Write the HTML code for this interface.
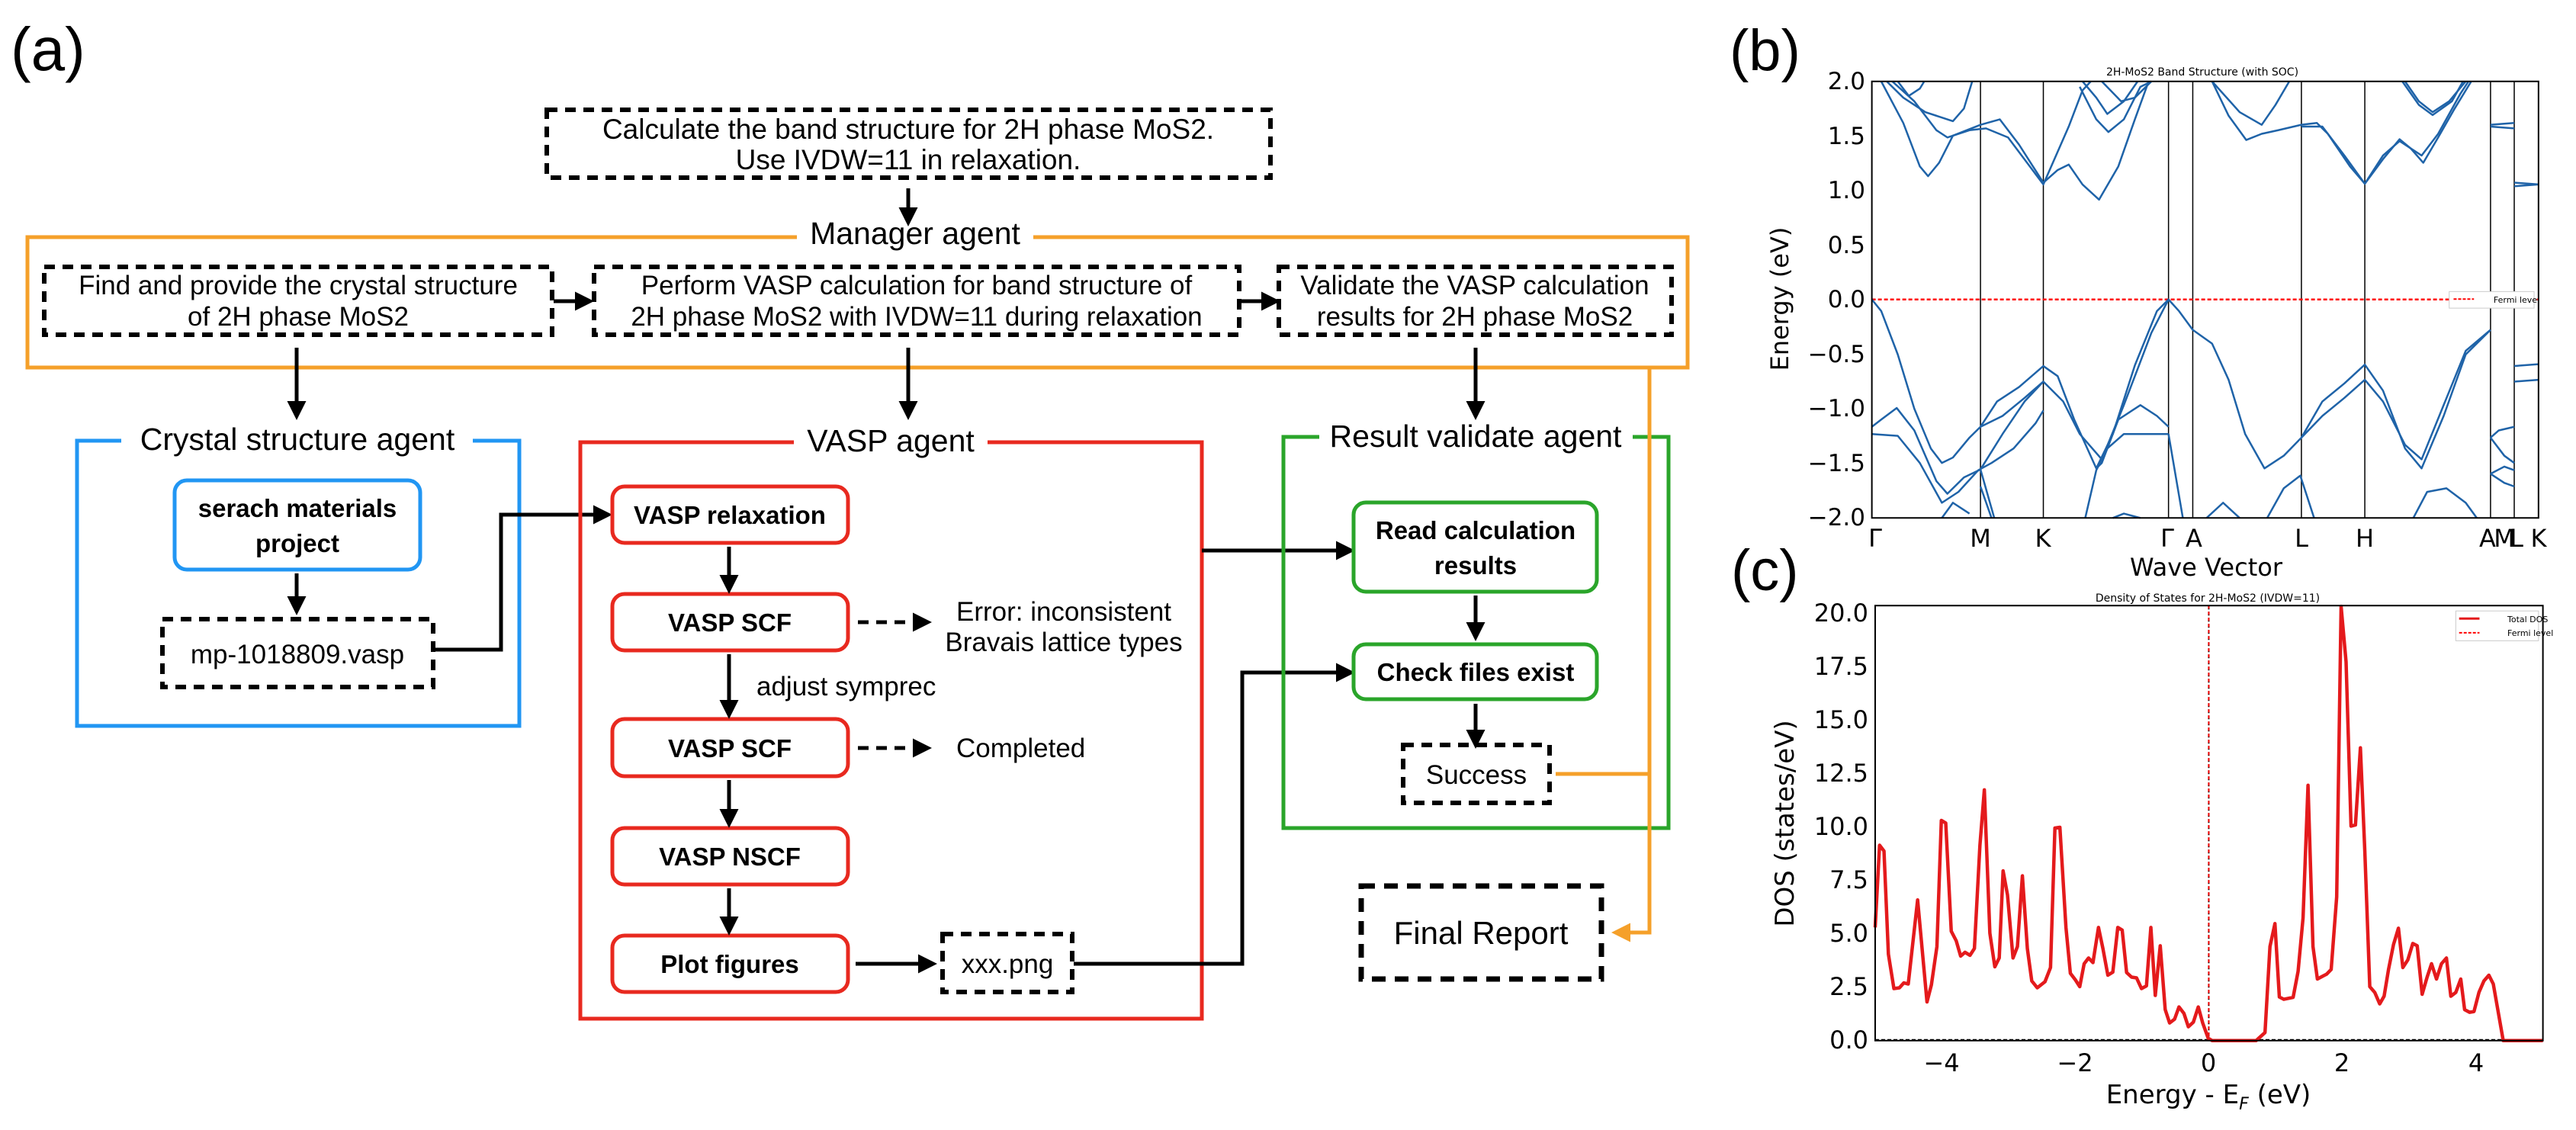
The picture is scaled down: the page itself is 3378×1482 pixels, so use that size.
<!DOCTYPE html>
<html><head><meta charset="utf-8"><style>
html,body{margin:0;padding:0;background:#fff;}
svg{display:block;}
</style></head><body>
<svg width="3378" height="1482" viewBox="0 0 3378 1482" xmlns="http://www.w3.org/2000/svg" font-family="Liberation Sans, sans-serif">
<defs>
<marker id="ab" markerWidth="5" markerHeight="5" refX="4" refY="2.5" orient="auto" markerUnits="strokeWidth"><path d="M0,0 L5,2.5 L0,5 z" fill="#000"/></marker>
<marker id="ao" markerWidth="5" markerHeight="5" refX="4" refY="2.5" orient="auto" markerUnits="strokeWidth"><path d="M0,0 L5,2.5 L0,5 z" fill="#f5a02a"/></marker>
</defs>
<rect width="3378" height="1482" fill="#fff"/>
<text x="14" y="92" font-size="80">(a)</text>

<!-- top task -->
<rect x="717" y="144" width="949" height="89" fill="none" stroke="#000" stroke-width="6" stroke-dasharray="14 10"/>
<text x="1191" y="182" font-size="37" text-anchor="middle">Calculate the band structure for 2H phase MoS2.</text>
<text x="1191" y="222" font-size="37" text-anchor="middle">Use IVDW=11 in relaxation.</text>
<line x1="1191" y1="247" x2="1191" y2="292" stroke="#000" stroke-width="5" marker-end="url(#ab)"/>

<!-- manager -->
<path d="M1045,311 H36 V482 H2213 V311 H1355" fill="none" stroke="#f5a02a" stroke-width="5"/>
<text x="1200" y="320" font-size="41" text-anchor="middle">Manager agent</text>
<rect x="58" y="350" width="666" height="89" fill="none" stroke="#000" stroke-width="6" stroke-dasharray="14 10"/>
<text x="391" y="386" font-size="35" text-anchor="middle">Find and provide the crystal structure</text>
<text x="391" y="427" font-size="35" text-anchor="middle">of 2H phase MoS2</text>
<rect x="779" y="350" width="846" height="89" fill="none" stroke="#000" stroke-width="6" stroke-dasharray="14 10"/>
<text x="1202" y="386" font-size="35" text-anchor="middle">Perform VASP calculation for band structure of</text>
<text x="1202" y="427" font-size="35" text-anchor="middle">2H phase MoS2 with IVDW=11 during relaxation</text>
<rect x="1677" y="350" width="515" height="89" fill="none" stroke="#000" stroke-width="6" stroke-dasharray="14 10"/>
<text x="1934" y="386" font-size="35" text-anchor="middle">Validate the VASP calculation</text>
<text x="1934" y="427" font-size="35" text-anchor="middle">results for 2H phase MoS2</text>
<line x1="726" y1="395" x2="774" y2="395" stroke="#000" stroke-width="5" marker-end="url(#ab)"/>
<line x1="1627" y1="395" x2="1674" y2="395" stroke="#000" stroke-width="5" marker-end="url(#ab)"/>
<line x1="389" y1="456" x2="389" y2="546" stroke="#000" stroke-width="5" marker-end="url(#ab)"/>
<line x1="1191" y1="456" x2="1191" y2="546" stroke="#000" stroke-width="5" marker-end="url(#ab)"/>
<line x1="1935" y1="456" x2="1935" y2="546" stroke="#000" stroke-width="5" marker-end="url(#ab)"/>

<!-- crystal -->
<path d="M159,578 H101 V952 H681 V578 H620" fill="none" stroke="#2196f3" stroke-width="5"/>
<text x="390" y="590" font-size="41" text-anchor="middle">Crystal structure agent</text>
<rect x="229" y="630" width="322" height="117" rx="16" fill="none" stroke="#2196f3" stroke-width="5"/>
<text x="390" y="678" font-size="33" font-weight="bold" text-anchor="middle">serach materials</text>
<text x="390" y="724" font-size="33" font-weight="bold" text-anchor="middle">project</text>
<line x1="389" y1="752" x2="389" y2="802" stroke="#000" stroke-width="5" marker-end="url(#ab)"/>
<rect x="213" y="812" width="355" height="89" fill="none" stroke="#000" stroke-width="6" stroke-dasharray="14 10"/>
<text x="390" y="870" font-size="35" text-anchor="middle">mp-1018809.vasp</text>
<polyline points="570,852 657,852 657,675 798,675" fill="none" stroke="#000" stroke-width="5" marker-end="url(#ab)"/>

<!-- VASP -->
<path d="M1041,580 H761 V1336 H1576 V580 H1295" fill="none" stroke="#e8291f" stroke-width="5"/>
<text x="1168" y="592" font-size="41" text-anchor="middle">VASP agent</text>
<g fill="none" stroke="#e8291f" stroke-width="5">
<rect x="803" y="638" width="309" height="74" rx="16"/>
<rect x="803" y="779" width="309" height="74" rx="16"/>
<rect x="803" y="943" width="309" height="75" rx="16"/>
<rect x="803" y="1086" width="309" height="74" rx="16"/>
<rect x="803" y="1227" width="309" height="74" rx="16"/>
</g>
<g font-size="33" font-weight="bold" text-anchor="middle">
<text x="957" y="687">VASP relaxation</text>
<text x="957" y="828">VASP SCF</text>
<text x="957" y="993">VASP SCF</text>
<text x="957" y="1135">VASP NSCF</text>
<text x="957" y="1276">Plot figures</text>
</g>
<g stroke="#000" stroke-width="5" marker-end="url(#ab)">
<line x1="956" y1="717" x2="956" y2="774"/>
<line x1="956" y1="858" x2="956" y2="938"/>
<line x1="956" y1="1023" x2="956" y2="1081"/>
<line x1="956" y1="1165" x2="956" y2="1222"/>
<line x1="1125" y1="816" x2="1217" y2="816" stroke-dasharray="14 10"/>
<line x1="1125" y1="981" x2="1217" y2="981" stroke-dasharray="14 10"/>
<line x1="1122" y1="1264" x2="1224" y2="1264"/>
</g>
<text x="1395" y="814" font-size="35" text-anchor="middle">Error: inconsistent</text>
<text x="1395" y="854" font-size="35" text-anchor="middle">Bravais lattice types</text>
<text x="992" y="912" font-size="35">adjust symprec</text>
<text x="1254" y="993" font-size="35">Completed</text>
<rect x="1236" y="1225" width="170" height="76" fill="none" stroke="#000" stroke-width="6" stroke-dasharray="14 10"/>
<text x="1321" y="1276" font-size="35" text-anchor="middle">xxx.png</text>
<polyline points="1408,1264 1629,1264 1629,882 1772,882" fill="none" stroke="#000" stroke-width="5" marker-end="url(#ab)"/>
<line x1="1576" y1="722" x2="1772" y2="722" stroke="#000" stroke-width="5" marker-end="url(#ab)"/>

<!-- result validate -->
<path d="M1730,573 H1683 V1086 H2188 V573 H2141" fill="none" stroke="#2aa52a" stroke-width="5"/>
<text x="1935" y="586" font-size="41" text-anchor="middle">Result validate agent</text>
<rect x="1775" y="659" width="319" height="117" rx="16" fill="none" stroke="#2aa52a" stroke-width="5"/>
<text x="1935" y="707" font-size="33" font-weight="bold" text-anchor="middle">Read calculation</text>
<text x="1935" y="753" font-size="33" font-weight="bold" text-anchor="middle">results</text>
<rect x="1775" y="845" width="319" height="72" rx="16" fill="none" stroke="#2aa52a" stroke-width="5"/>
<text x="1935" y="893" font-size="33" font-weight="bold" text-anchor="middle">Check files exist</text>
<line x1="1935" y1="781" x2="1935" y2="836" stroke="#000" stroke-width="5" marker-end="url(#ab)"/>
<line x1="1935" y1="923" x2="1935" y2="977" stroke="#000" stroke-width="5" marker-end="url(#ab)"/>
<rect x="1840" y="977" width="192" height="76" fill="none" stroke="#000" stroke-width="6" stroke-dasharray="14 10"/>
<text x="1936" y="1028" font-size="35" text-anchor="middle">Success</text>
<line x1="2040" y1="1015" x2="2163" y2="1015" stroke="#f5a02a" stroke-width="5"/>
<polyline points="2163,482 2163,1223 2118,1223" fill="none" stroke="#f5a02a" stroke-width="5" marker-end="url(#ao)"/>
<rect x="1785" y="1162" width="315" height="122" fill="none" stroke="#000" stroke-width="7" stroke-dasharray="18 12"/>
<text x="1942" y="1238" font-size="42" text-anchor="middle">Final Report</text>

<!-- (b) band structure -->
<text x="2268" y="92" font-size="76">(b)</text>
<svg x="2250" y="0" width="1128" height="740" viewBox="0 0 1560 1560" preserveAspectRatio="none">
<g fill="none" stroke="#000" stroke-width="1.5">
<line x1="480" y1="225" x2="480" y2="1432" vector-effect="non-scaling-stroke"/>
<line x1="594" y1="225" x2="594" y2="1432" vector-effect="non-scaling-stroke"/>
<line x1="821" y1="225" x2="821" y2="1432" vector-effect="non-scaling-stroke"/>
<line x1="865" y1="225" x2="865" y2="1432" vector-effect="non-scaling-stroke"/>
<line x1="1062" y1="225" x2="1062" y2="1432" vector-effect="non-scaling-stroke"/>
<line x1="1177" y1="225" x2="1177" y2="1432" vector-effect="non-scaling-stroke"/>
<line x1="1405" y1="225" x2="1405" y2="1432" vector-effect="non-scaling-stroke"/>
<line x1="1448" y1="225" x2="1448" y2="1432" vector-effect="non-scaling-stroke"/>
</g>
<line x1="283" y1="828" x2="1492" y2="828" stroke="#f00" stroke-width="2.5" stroke-dasharray="5 3" vector-effect="non-scaling-stroke"/>
<g fill="none" stroke="#1f63a8" stroke-width="2.5" stroke-linejoin="round">
<polyline vector-effect="non-scaling-stroke" points="283,828 300,860 330,980 360,1130 390,1240 410,1280 430,1265 460,1210 480,1180 510,1110 550,1070 594,1012 620,1040 650,1160 690,1295 720,1200 760,1010 800,860 821,828 840,860 865,912 900,950 930,1050 960,1200 995,1295 1030,1260 1062,1210 1100,1110 1140,1060 1177,1008 1210,1080 1250,1240 1280,1295 1320,1150 1360,980 1405,912"/>
<polyline vector-effect="non-scaling-stroke" points="480,1180 520,1150 560,1100 594,1055 630,1110 660,1200 700,1270 740,1120 790,920 821,828"/>
<polyline vector-effect="non-scaling-stroke" points="1062,1210 1100,1150 1140,1100 1177,1050 1210,1110 1250,1230 1280,1270 1320,1120 1360,970 1405,912"/>
<polyline vector-effect="non-scaling-stroke" points="283,1180 300,1160 328,1128 360,1190 400,1330 420,1365 450,1320 480,1298 520,1200 560,1110 594,1055"/>
<polyline vector-effect="non-scaling-stroke" points="283,1200 330,1205 370,1280 410,1390 440,1360 476,1300 500,1280 540,1240 580,1170 594,1135"/>
<polyline vector-effect="non-scaling-stroke" points="690,1295 700,1280 730,1160 770,1120 800,1150 821,1180"/>
<polyline vector-effect="non-scaling-stroke" points="821,1200 740,1200 710,1240 690,1300 670,1432"/>
<polyline vector-effect="non-scaling-stroke" points="821,1200 847,1432"/>
<polyline vector-effect="non-scaling-stroke" points="480,1298 505,1432"/>
<polyline vector-effect="non-scaling-stroke" points="480,1345 500,1432"/>
<polyline vector-effect="non-scaling-stroke" points="410,1432 430,1390 460,1420"/>
<polyline vector-effect="non-scaling-stroke" points="1000,1432 1030,1350 1060,1315 1085,1432"/>
<polyline vector-effect="non-scaling-stroke" points="1265,1432 1290,1360 1325,1350 1360,1390 1380,1432"/>
<polyline vector-effect="non-scaling-stroke" points="890,1432 920,1390 950,1432"/>
<polyline vector-effect="non-scaling-stroke" points="720,1432 740,1420 770,1432"/>
<polyline vector-effect="non-scaling-stroke" points="310,225 340,270 380,310 430,335 450,300 465,225"/>
<polyline vector-effect="non-scaling-stroke" points="300,225 340,340 370,460 385,487 405,450 430,375 480,345 515,330 550,400 594,505 620,470 640,455 665,510 695,552 730,460 760,330 785,225"/>
<polyline vector-effect="non-scaling-stroke" points="320,225 360,280 400,360 420,380 460,360 490,355 530,380 594,510 640,350 665,250 680,225"/>
<polyline vector-effect="non-scaling-stroke" points="330,225 350,265 370,245 378,225"/>
<polyline vector-effect="non-scaling-stroke" points="665,225 690,270 710,315 740,280 765,225"/>
<polyline vector-effect="non-scaling-stroke" points="660,240 690,330 712,365 740,330 770,240 790,225"/>
<polyline vector-effect="non-scaling-stroke" points="700,225 735,280 760,270 790,225"/>
<polyline vector-effect="non-scaling-stroke" points="900,225 950,310 990,345 1015,290 1040,225"/>
<polyline vector-effect="non-scaling-stroke" points="900,225 930,320 962,387 990,370 1020,360 1062,345 1090,340 1110,370 1150,460 1177,508 1210,440 1240,385 1260,410 1283,450 1310,380 1340,300 1370,225"/>
<polyline vector-effect="non-scaling-stroke" points="1062,350 1100,350 1140,430 1177,508 1210,430 1240,390 1280,430 1310,370 1350,260 1365,225"/>
<polyline vector-effect="non-scaling-stroke" points="1250,225 1275,280 1300,310 1330,280 1360,225"/>
<polyline vector-effect="non-scaling-stroke" points="1245,225 1275,290 1300,318 1335,280 1355,225"/>
<polyline vector-effect="non-scaling-stroke" points="1405,345 1448,340"/>
<polyline vector-effect="non-scaling-stroke" points="1405,350 1448,355"/>
<polyline vector-effect="non-scaling-stroke" points="1448,505 1492,510"/>
<polyline vector-effect="non-scaling-stroke" points="1448,515 1492,510"/>
<polyline vector-effect="non-scaling-stroke" points="1448,1012 1492,1007"/>
<polyline vector-effect="non-scaling-stroke" points="1448,1055 1492,1050"/>
<polyline vector-effect="non-scaling-stroke" points="1405,1210 1420,1190 1448,1180"/>
<polyline vector-effect="non-scaling-stroke" points="1405,1210 1430,1260 1448,1280"/>
<polyline vector-effect="non-scaling-stroke" points="1405,1310 1430,1290 1448,1300"/>
<polyline vector-effect="non-scaling-stroke" points="1405,1310 1430,1335 1448,1345"/>
</g>
<rect x="283" y="225" width="1209" height="1207" fill="none" stroke="#000" stroke-width="2" vector-effect="non-scaling-stroke"/>
<rect x="1330" y="806" width="154" height="46" fill="#fff" stroke="#ccc" stroke-width="1" vector-effect="non-scaling-stroke"/>
<line x1="1338" y1="827" x2="1375" y2="827" stroke="#f00" stroke-width="2" stroke-dasharray="4 2" vector-effect="non-scaling-stroke"/>
</svg>
<g font-family="DejaVu Sans, sans-serif" fill="#000">
<text x="2888" y="99" font-size="14" text-anchor="middle">2H-MoS2 Band Structure (with SOC)</text>
<text x="3300" y="397" font-size="11" text-anchor="middle">Fermi level</text>
<g font-size="31" text-anchor="end">
<text x="2446" y="117">2.0</text><text x="2446" y="189">1.5</text><text x="2446" y="260">1.0</text><text x="2446" y="332">0.5</text><text x="2446" y="403">0.0</text><text x="2446" y="475">−0.5</text><text x="2446" y="546">−1.0</text><text x="2446" y="618">−1.5</text><text x="2446" y="689">−2.0</text>
</g>
<g font-size="32" text-anchor="middle">
<text x="2459" y="717">Γ</text><text x="2597" y="717">M</text><text x="2679" y="717">K</text><text x="2842" y="717">Γ</text><text x="2877" y="717">A</text><text x="3018" y="717">L</text><text x="3101" y="717">H</text><text x="3262" y="717">A</text><text x="3284" y="717">M</text><text x="3300" y="717">L</text><text x="3329" y="717">K</text>
</g>
<text x="2893" y="755" font-size="32" text-anchor="middle">Wave Vector</text>
<text transform="translate(2345,392) rotate(-90)" font-size="32" text-anchor="middle">Energy (eV)</text>
</g>

<!-- (c) DOS -->
<text x="2270" y="774" font-size="76">(c)</text>
<svg x="2250" y="700" width="1128" height="782" viewBox="0 0 1560 1560" preserveAspectRatio="none">
<line x1="894" y1="188" x2="894" y2="1326" stroke="#000" stroke-width="2" stroke-dasharray="5 3" vector-effect="non-scaling-stroke"/>
<line x1="894" y1="188" x2="894" y2="1326" stroke="#f00" stroke-width="2" stroke-dasharray="4 4" vector-effect="non-scaling-stroke"/>
<line x1="289" y1="1324" x2="1500" y2="1324" stroke="#000" stroke-width="2" stroke-dasharray="5 3" vector-effect="non-scaling-stroke"/>
<polyline fill="none" stroke="#e41a1c" stroke-width="4.5" stroke-linejoin="round" vector-effect="non-scaling-stroke" points="289,1030 297,815 305,830 313,1100 323,1190 333,1188 341,1175 349,1178 366,958 383,1225 391,1180 401,1080 409,750 417,757 427,1040 436,1065 444,1105 452,1095 461,1103 469,1085 479,815 487,670 497,1045 506,1133 514,1110 521,882 529,945 539,1110 547,1080 556,895 565,1085 573,1170 583,1188 597,1172 607,1135 615,770 624,768 635,1030 643,1150 652,1167 660,1185 668,1125 676,1110 684,1122 694,1030 702,1085 711,1155 720,1147 729,1030 737,1037 745,1148 754,1160 763,1162 772,1190 781,1183 789,1030 797,1208 806,1078 815,1245 823,1280 832,1270 840,1238 849,1255 857,1290 866,1278 875,1238 883,1280 893,1320 900,1326 980,1326 996,1305 1005,1080 1014,1020 1022,1212 1030,1218 1047,1213 1056,1145 1065,1005 1074,658 1083,1080 1091,1165 1100,1158 1108,1152 1116,1140 1126,950 1134,190 1143,335 1152,765 1160,762 1169,560 1177,830 1186,1185 1195,1200 1204,1230 1212,1210 1220,1140 1229,1075 1238,1032 1246,1135 1255,1115 1264,1072 1272,1078 1281,1205 1290,1160 1298,1125 1307,1165 1316,1125 1325,1110 1333,1210 1342,1200 1351,1165 1358,1245 1367,1252 1375,1250 1384,1200 1393,1170 1402,1155 1410,1178 1420,1260 1428,1326 1500,1326"/>
<rect x="289" y="188" width="1211" height="1138" fill="none" stroke="#000" stroke-width="2" vector-effect="non-scaling-stroke"/>
<rect x="1342" y="202" width="150" height="78" fill="#fff" stroke="#ccc" stroke-width="1" vector-effect="non-scaling-stroke"/>
<line x1="1348" y1="222" x2="1385" y2="222" stroke="#e41a1c" stroke-width="3" vector-effect="non-scaling-stroke"/>
<line x1="1348" y1="259" x2="1385" y2="259" stroke="#f00" stroke-width="2" stroke-dasharray="4 2" vector-effect="non-scaling-stroke"/>
</svg>
<g font-family="DejaVu Sans, sans-serif" fill="#000">
<text x="2895" y="789" font-size="14" text-anchor="middle">Density of States for 2H-MoS2 (IVDW=11)</text>
<text x="3288" y="816" font-size="11">Total DOS</text>
<text x="3288" y="834" font-size="11">Fermi level</text>
<g font-size="32" text-anchor="end">
<text x="2450" y="815">20.0</text><text x="2450" y="885">17.5</text><text x="2450" y="955">15.0</text><text x="2450" y="1025">12.5</text><text x="2450" y="1095">10.0</text><text x="2450" y="1165">7.5</text><text x="2450" y="1235">5.0</text><text x="2450" y="1305">2.5</text><text x="2450" y="1375">0.0</text>
</g>
<g font-size="32" text-anchor="middle">
<text x="2546" y="1405">−4</text><text x="2721" y="1405">−2</text><text x="2896" y="1405">0</text><text x="3071" y="1405">2</text><text x="3247" y="1405">4</text>
</g>
<text x="2896" y="1447" font-size="34" text-anchor="middle">Energy - E<tspan font-size="22" font-style="italic" dy="8">F</tspan><tspan dy="-8"> (eV)</tspan></text>
<text transform="translate(2352,1080) rotate(-90)" font-size="34" text-anchor="middle">DOS (states/eV)</text>
</g>
</svg>
</body></html>
